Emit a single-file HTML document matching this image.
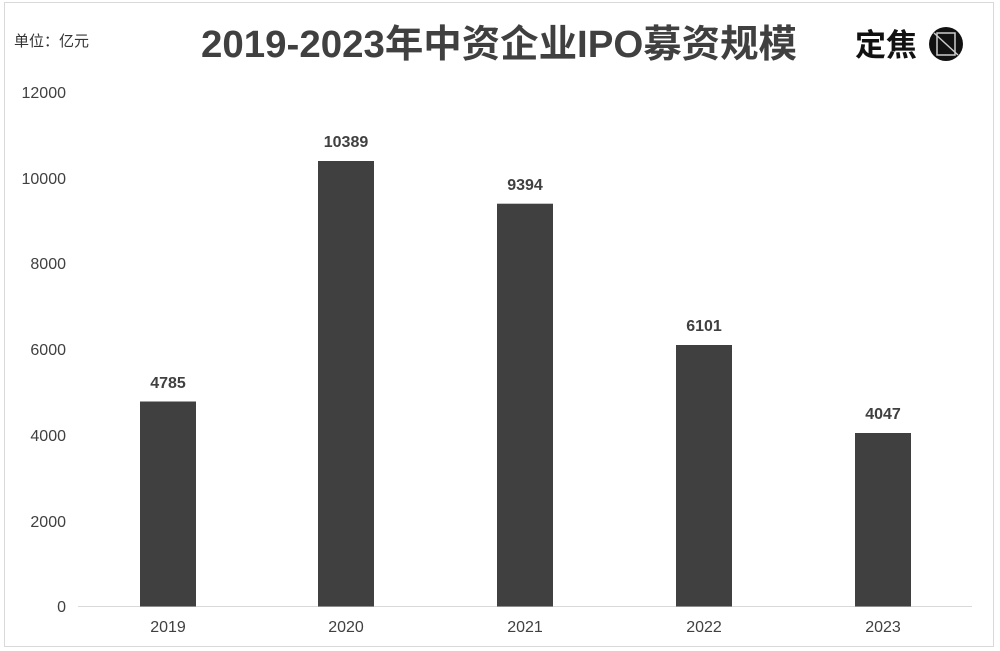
<!DOCTYPE html>
<html><head><meta charset="utf-8"><style>
body{margin:0;background:#fff;}
svg{display:block;}
text{font-family:"Liberation Sans","Noto Sans CJK SC",sans-serif;}
</style></head><body>
<svg width="1000" height="651" viewBox="0 0 1000 651" xmlns="http://www.w3.org/2000/svg">
<rect x="0" y="0" width="1000" height="651" fill="#fff"/>
<rect x="4.5" y="2.5" width="989" height="644" fill="none" stroke="#d9d9d9" stroke-width="1"/>
<text x="14" y="46" font-size="15" fill="#333">单位：亿元</text>
<text x="499" y="57" font-size="38" font-weight="bold" fill="#404040" text-anchor="middle" textLength="596" lengthAdjust="spacingAndGlyphs">2019-2023年中资企业IPO募资规模</text>
<text x="855" y="56" font-size="31" fill="#111" font-weight="bold">定焦</text>
<circle cx="946" cy="44" r="17" fill="#111"/>
<rect x="937" y="33" width="18" height="22" fill="none" stroke="#ccc" stroke-width="1.5"/>
<line x1="934" y1="33" x2="958" y2="55" stroke="#ccc" stroke-width="1.5"/>
<g font-size="16" fill="#404040" text-anchor="end">
<text x="66" y="98">12000</text>
<text x="66" y="184">10000</text>
<text x="66" y="269">8000</text>
<text x="66" y="355">6000</text>
<text x="66" y="441">4000</text>
<text x="66" y="527">2000</text>
<text x="66" y="612">0</text>
</g>
<line x1="78" y1="606.5" x2="972" y2="606.5" stroke="#d9d9d9" stroke-width="1"/>
<g fill="#404040">
<rect x="140" y="401.5" width="56" height="205"/>
<rect x="318" y="161" width="56" height="445.5"/>
<rect x="497" y="203.7" width="56" height="402.8"/>
<rect x="676" y="345" width="56" height="261.5"/>
<rect x="855" y="433" width="56" height="173.5"/>
</g>
<g font-size="16" font-weight="bold" fill="#404040" text-anchor="middle">
<text x="168" y="388">4785</text>
<text x="346" y="147">10389</text>
<text x="525" y="190">9394</text>
<text x="704" y="331">6101</text>
<text x="883" y="419">4047</text>
</g>
<g font-size="16" fill="#404040" text-anchor="middle">
<text x="168" y="632">2019</text>
<text x="346" y="632">2020</text>
<text x="525" y="632">2021</text>
<text x="704" y="632">2022</text>
<text x="883" y="632">2023</text>
</g>
</svg>
</body></html>
